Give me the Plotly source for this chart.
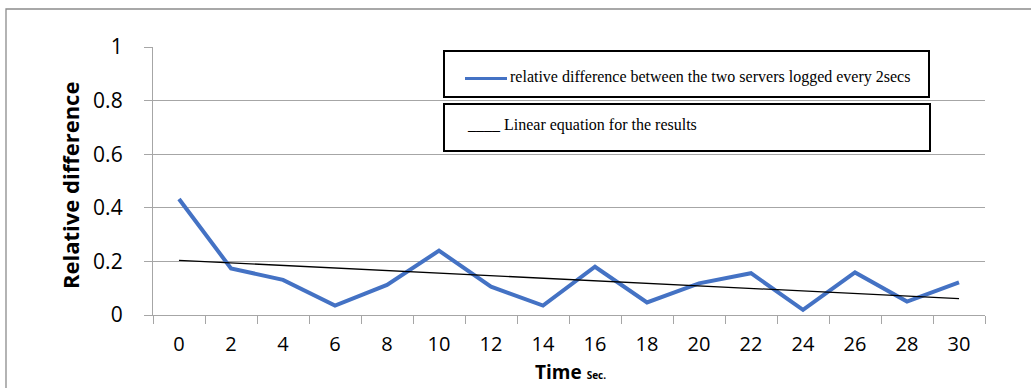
import plotly.graph_objects as go

# ---- data ----
time_sec = [0, 2, 4, 6, 8, 10, 12, 14, 16, 18, 20, 22, 24, 26, 28, 30]
relative_diff = [0.433, 0.174, 0.131, 0.035, 0.112, 0.240, 0.106, 0.035,
                 0.180, 0.047, 0.118, 0.156, 0.019, 0.159, 0.050, 0.122]
trend_time = [0, 30]
trend_values = [0.204, 0.061]
y_ticks = [0, 0.2, 0.4, 0.6, 0.8, 1]
y_tick_labels = ["0", "0.2", "0.4", "0.6", "0.8", "1"]

legend_series = "relative difference between the two servers logged every 2secs"
legend_trend = "____ Linear equation for the results"

# ---- layout geometry (pixels) ----
W, H = 1031, 388
L, R, T, B = 153, 985, 47, 315


def px(x):
    return (x - L) / (R - L)


def py(y):
    return (B - y) / (B - T)


GRAY = "#a6a6a6"
cats = [str(t) for t in time_sec]

fig = go.Figure()
fig.add_trace(go.Scatter(
    x=cats, y=relative_diff, mode="lines",
    line=dict(color="#4472C4", width=4), showlegend=False, hoverinfo="skip"))
fig.add_trace(go.Scatter(
    x=[str(t) for t in trend_time], y=trend_values, mode="lines",
    line=dict(color="#000000", width=1.3), showlegend=False, hoverinfo="skip"))

fig.update_layout(
    width=W, height=H,
    margin=dict(l=L, r=W - R, t=T, b=H - B),
    paper_bgcolor="white", plot_bgcolor="white",
    font=dict(family="Open Sans", color="#000000"),
    showlegend=False,
)
fig.update_xaxes(
    type="category", categoryorder="array", categoryarray=cats,
    range=[-0.5, len(cats) - 0.5],
    tickson="boundaries", ticks="outside", ticklen=8, tickcolor=GRAY,
    tickwidth=1.3, showline=True, linecolor=GRAY, linewidth=1.3,
    showgrid=False, zeroline=False,
    tickfont=dict(family="Open Sans", size=20, color="#000000"),
    ticklabelstandoff=11,
)
fig.update_yaxes(
    range=[0, 1], tickvals=y_ticks, ticktext=y_tick_labels,
    ticks="outside", ticklen=8, tickcolor=GRAY, tickwidth=1.3,
    showline=True, linecolor=GRAY, linewidth=1.3,
    showgrid=True, gridcolor=GRAY, gridwidth=1.3, zeroline=False,
    tickfont=dict(family="Open Sans", size=21, color="#000000"),
    ticklabelstandoff=17,
)

shapes = []
# outer frame (left and top edges visible)
shapes.append(dict(type="rect", xref="paper", yref="paper",
                   x0=px(6), x1=px(1040), y0=py(9), y1=py(400),
                   line=dict(color="#8c8c8c", width=1.3), layer="below"))
# legend boxes
shapes.append(dict(type="rect", xref="paper", yref="paper",
                   x0=px(444), x1=px(929), y0=py(51), y1=py(97),
                   line=dict(color="#000000", width=2), fillcolor="white"))
shapes.append(dict(type="rect", xref="paper", yref="paper",
                   x0=px(444), x1=px(930), y0=py(104), y1=py(151),
                   line=dict(color="#000000", width=2), fillcolor="white"))
# legend line sample
shapes.append(dict(type="line", xref="paper", yref="paper",
                   x0=px(465), x1=px(507), y0=py(78.5), y1=py(78.5),
                   line=dict(color="#4472C4", width=3)))
fig.update_layout(shapes=shapes)

annotations = [
    dict(text=legend_series, xref="paper", yref="paper",
         x=px(508), y=py(77), xanchor="left", yanchor="middle", showarrow=False,
         font=dict(family="Liberation Serif", size=16, color="#000000")),
    dict(text=legend_trend, xref="paper", yref="paper",
         x=px(465), y=py(125), xanchor="left", yanchor="middle", showarrow=False,
         font=dict(family="Liberation Serif", size=16, color="#000000")),
    dict(text="<b>Relative difference</b>", xref="paper", yref="paper",
         x=px(70), y=py(186), xanchor="center", yanchor="middle", textangle=-90,
         showarrow=False, font=dict(family="Open Sans", size=22, color="#000000")),
    dict(text="<b>Time <span style='font-size:10px'>Sec.</span></b>",
         xref="paper", yref="paper", x=px(570), y=py(372),
         xanchor="center", yanchor="middle", showarrow=False, borderpad=0,
         font=dict(family="Open Sans", size=19, color="#000000")),
]
fig.update_layout(annotations=annotations)

fig.write_html("out.html")
